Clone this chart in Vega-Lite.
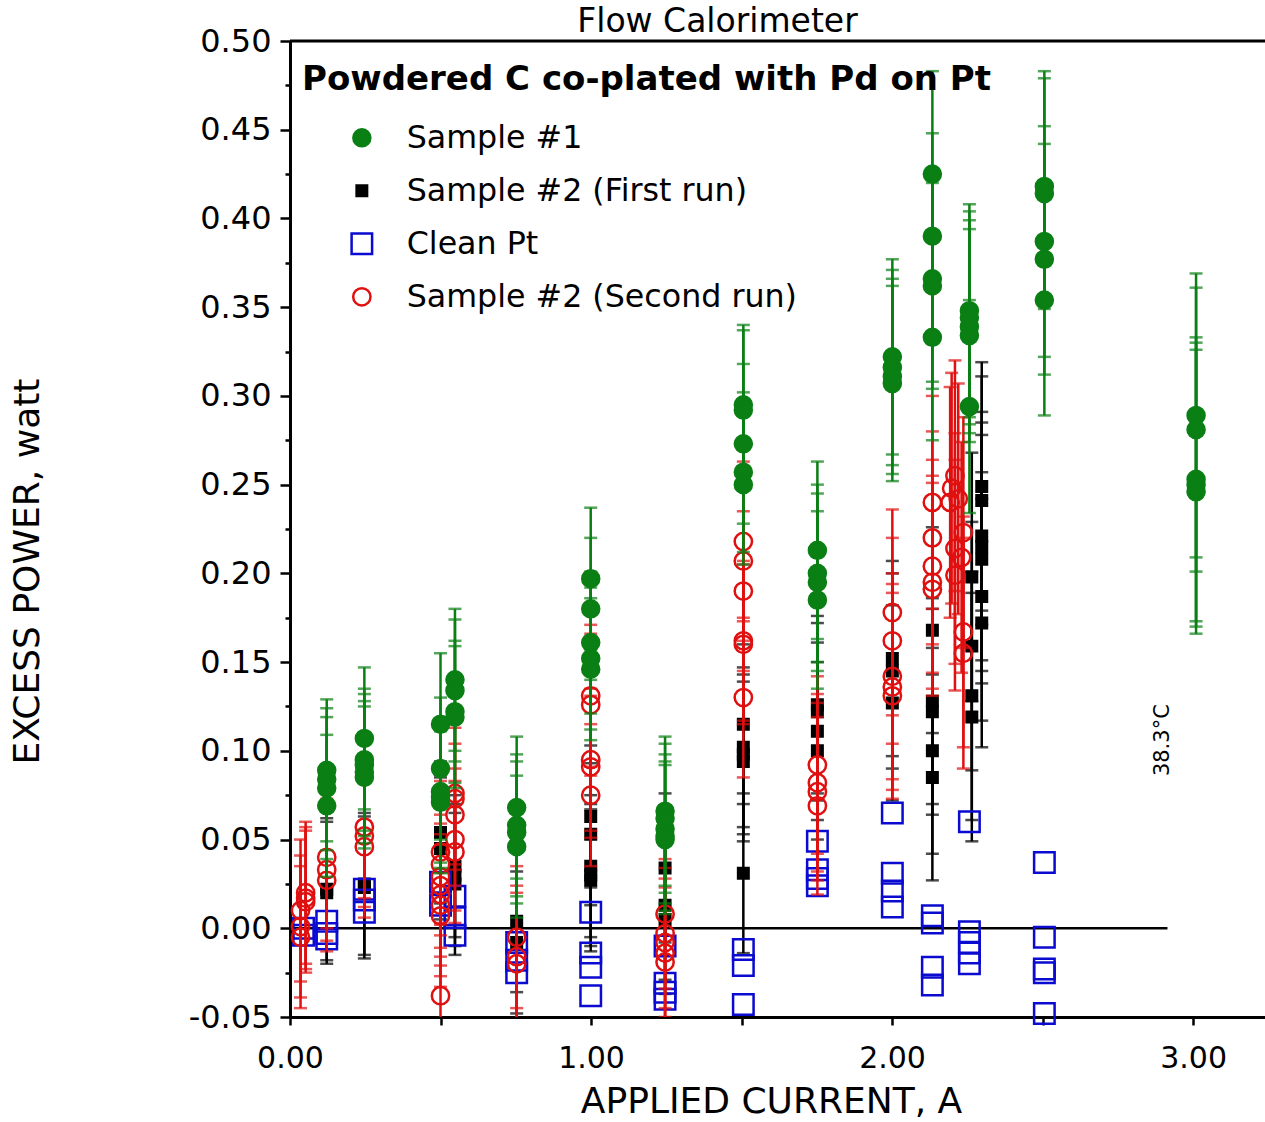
{
  "$schema": "https://vega.github.io/schema/vega-lite/v6.json",
  "width": 975,
  "height": 976,
  "autosize": {"type": "none"},
  "padding": {"left": 290, "top": 41, "right": 0, "bottom": 105},
  "background": "white",
  "title": {"text": "Flow Calorimeter", "fontSize": 33, "font": "DejaVu Sans", "fontWeight": "normal", "color": "black", "anchor": "middle", "dx": -60, "offset": -14},
  "data": {"values": [
    {"series": "Sample #2 (First run)", "current": 0.122, "power": 0.022, "err": 0.04},
    {"series": "Sample #2 (First run)", "current": 0.122, "power": 0.020, "err": 0.04},
    {"series": "Sample #2 (First run)", "current": 0.247, "power": 0.025, "err": 0.04},
    {"series": "Sample #2 (First run)", "current": 0.247, "power": 0.023, "err": 0.04},
    {"series": "Sample #2 (First run)", "current": 0.50, "power": 0.054, "err": 0.04},
    {"series": "Sample #2 (First run)", "current": 0.50, "power": 0.045, "err": 0.04},
    {"series": "Sample #2 (First run)", "current": 0.548, "power": 0.035, "err": 0.04},
    {"series": "Sample #2 (First run)", "current": 0.548, "power": 0.030, "err": 0.04},
    {"series": "Sample #2 (First run)", "current": 0.548, "power": 0.025, "err": 0.04},
    {"series": "Sample #2 (First run)", "current": 0.753, "power": 0.004, "err": 0.04},
    {"series": "Sample #2 (First run)", "current": 0.753, "power": -0.008, "err": 0.04},
    {"series": "Sample #2 (First run)", "current": 0.999, "power": 0.063, "err": 0.04},
    {"series": "Sample #2 (First run)", "current": 0.999, "power": 0.053, "err": 0.04},
    {"series": "Sample #2 (First run)", "current": 0.999, "power": 0.035, "err": 0.04},
    {"series": "Sample #2 (First run)", "current": 0.999, "power": 0.030, "err": 0.04},
    {"series": "Sample #2 (First run)", "current": 0.999, "power": 0.027, "err": 0.04},
    {"series": "Sample #2 (First run)", "current": 1.246, "power": 0.034, "err": 0.042},
    {"series": "Sample #2 (First run)", "current": 1.246, "power": 0.013, "err": 0.042},
    {"series": "Sample #2 (First run)", "current": 1.246, "power": 0.005, "err": 0.042},
    {"series": "Sample #2 (First run)", "current": 1.506, "power": 0.115, "err": 0.045},
    {"series": "Sample #2 (First run)", "current": 1.506, "power": 0.102, "err": 0.045},
    {"series": "Sample #2 (First run)", "current": 1.506, "power": 0.098, "err": 0.045},
    {"series": "Sample #2 (First run)", "current": 1.506, "power": 0.094, "err": 0.045},
    {"series": "Sample #2 (First run)", "current": 1.506, "power": 0.031, "err": 0.045},
    {"series": "Sample #2 (First run)", "current": 1.752, "power": 0.126, "err": 0.05},
    {"series": "Sample #2 (First run)", "current": 1.752, "power": 0.122, "err": 0.05},
    {"series": "Sample #2 (First run)", "current": 1.752, "power": 0.111, "err": 0.05},
    {"series": "Sample #2 (First run)", "current": 1.752, "power": 0.100, "err": 0.05},
    {"series": "Sample #2 (First run)", "current": 2.001, "power": 0.152, "err": 0.055},
    {"series": "Sample #2 (First run)", "current": 2.001, "power": 0.145, "err": 0.055},
    {"series": "Sample #2 (First run)", "current": 2.001, "power": 0.127, "err": 0.055},
    {"series": "Sample #2 (First run)", "current": 2.134, "power": 0.168, "err": 0.058},
    {"series": "Sample #2 (First run)", "current": 2.134, "power": 0.128, "err": 0.058},
    {"series": "Sample #2 (First run)", "current": 2.134, "power": 0.122, "err": 0.058},
    {"series": "Sample #2 (First run)", "current": 2.134, "power": 0.100, "err": 0.058},
    {"series": "Sample #2 (First run)", "current": 2.134, "power": 0.085, "err": 0.058},
    {"series": "Sample #2 (First run)", "current": 2.265, "power": 0.198, "err": 0.07},
    {"series": "Sample #2 (First run)", "current": 2.265, "power": 0.159, "err": 0.07},
    {"series": "Sample #2 (First run)", "current": 2.265, "power": 0.131, "err": 0.07},
    {"series": "Sample #2 (First run)", "current": 2.265, "power": 0.119, "err": 0.07},
    {"series": "Sample #2 (First run)", "current": 2.298, "power": 0.249, "err": 0.07},
    {"series": "Sample #2 (First run)", "current": 2.298, "power": 0.241, "err": 0.07},
    {"series": "Sample #2 (First run)", "current": 2.298, "power": 0.221, "err": 0.07},
    {"series": "Sample #2 (First run)", "current": 2.298, "power": 0.215, "err": 0.07},
    {"series": "Sample #2 (First run)", "current": 2.298, "power": 0.208, "err": 0.07},
    {"series": "Sample #2 (First run)", "current": 2.298, "power": 0.187, "err": 0.07},
    {"series": "Sample #2 (First run)", "current": 2.298, "power": 0.172, "err": 0.07},

    {"series": "Clean Pt", "current": 0.045, "power": 0.000},
    {"series": "Clean Pt", "current": 0.045, "power": -0.004},
    {"series": "Clean Pt", "current": 0.122, "power": 0.004},
    {"series": "Clean Pt", "current": 0.122, "power": -0.003},
    {"series": "Clean Pt", "current": 0.122, "power": -0.006},
    {"series": "Clean Pt", "current": 0.247, "power": 0.022},
    {"series": "Clean Pt", "current": 0.247, "power": 0.016},
    {"series": "Clean Pt", "current": 0.247, "power": 0.009},
    {"series": "Clean Pt", "current": 0.50, "power": 0.026},
    {"series": "Clean Pt", "current": 0.50, "power": 0.013},
    {"series": "Clean Pt", "current": 0.548, "power": 0.018},
    {"series": "Clean Pt", "current": 0.548, "power": 0.006},
    {"series": "Clean Pt", "current": 0.548, "power": -0.004},
    {"series": "Clean Pt", "current": 0.753, "power": -0.008},
    {"series": "Clean Pt", "current": 0.753, "power": -0.018},
    {"series": "Clean Pt", "current": 0.753, "power": -0.025},
    {"series": "Clean Pt", "current": 0.999, "power": 0.009},
    {"series": "Clean Pt", "current": 0.999, "power": -0.014},
    {"series": "Clean Pt", "current": 0.999, "power": -0.022},
    {"series": "Clean Pt", "current": 0.999, "power": -0.038},
    {"series": "Clean Pt", "current": 1.246, "power": -0.010},
    {"series": "Clean Pt", "current": 1.246, "power": -0.031},
    {"series": "Clean Pt", "current": 1.246, "power": -0.036},
    {"series": "Clean Pt", "current": 1.246, "power": -0.040},
    {"series": "Clean Pt", "current": 1.506, "power": -0.012},
    {"series": "Clean Pt", "current": 1.506, "power": -0.021},
    {"series": "Clean Pt", "current": 1.506, "power": -0.043},
    {"series": "Clean Pt", "current": 1.752, "power": 0.049},
    {"series": "Clean Pt", "current": 1.752, "power": 0.033},
    {"series": "Clean Pt", "current": 1.752, "power": 0.028},
    {"series": "Clean Pt", "current": 1.752, "power": 0.024},
    {"series": "Clean Pt", "current": 2.001, "power": 0.065},
    {"series": "Clean Pt", "current": 2.001, "power": 0.031},
    {"series": "Clean Pt", "current": 2.001, "power": 0.021},
    {"series": "Clean Pt", "current": 2.001, "power": 0.012},
    {"series": "Clean Pt", "current": 2.134, "power": 0.007},
    {"series": "Clean Pt", "current": 2.134, "power": 0.003},
    {"series": "Clean Pt", "current": 2.134, "power": -0.022},
    {"series": "Clean Pt", "current": 2.134, "power": -0.032},
    {"series": "Clean Pt", "current": 2.257, "power": 0.060},
    {"series": "Clean Pt", "current": 2.257, "power": -0.002},
    {"series": "Clean Pt", "current": 2.257, "power": -0.008},
    {"series": "Clean Pt", "current": 2.257, "power": -0.014},
    {"series": "Clean Pt", "current": 2.257, "power": -0.020},
    {"series": "Clean Pt", "current": 2.506, "power": 0.037},
    {"series": "Clean Pt", "current": 2.506, "power": -0.005},
    {"series": "Clean Pt", "current": 2.506, "power": -0.023},
    {"series": "Clean Pt", "current": 2.506, "power": -0.025},
    {"series": "Clean Pt", "current": 2.506, "power": -0.048},

    {"series": "Sample #2 (Second run)", "current": 0.035, "power": 0.010, "err": 0.04},
    {"series": "Sample #2 (Second run)", "current": 0.035, "power": 0.001, "err": 0.04},
    {"series": "Sample #2 (Second run)", "current": 0.035, "power": -0.005, "err": 0.04},
    {"series": "Sample #2 (Second run)", "current": 0.052, "power": 0.020, "err": 0.04},
    {"series": "Sample #2 (Second run)", "current": 0.052, "power": 0.017, "err": 0.04},
    {"series": "Sample #2 (Second run)", "current": 0.052, "power": 0.015, "err": 0.04},
    {"series": "Sample #2 (Second run)", "current": 0.122, "power": 0.040, "err": 0.04},
    {"series": "Sample #2 (Second run)", "current": 0.122, "power": 0.033, "err": 0.04},
    {"series": "Sample #2 (Second run)", "current": 0.122, "power": 0.027, "err": 0.04},
    {"series": "Sample #2 (Second run)", "current": 0.247, "power": 0.057, "err": 0.04},
    {"series": "Sample #2 (Second run)", "current": 0.247, "power": 0.052, "err": 0.04},
    {"series": "Sample #2 (Second run)", "current": 0.247, "power": 0.046, "err": 0.04},
    {"series": "Sample #2 (Second run)", "current": 0.50, "power": 0.043, "err": 0.04},
    {"series": "Sample #2 (Second run)", "current": 0.50, "power": 0.036, "err": 0.04},
    {"series": "Sample #2 (Second run)", "current": 0.50, "power": 0.029, "err": 0.04},
    {"series": "Sample #2 (Second run)", "current": 0.50, "power": 0.024, "err": 0.04},
    {"series": "Sample #2 (Second run)", "current": 0.50, "power": 0.019, "err": 0.04},
    {"series": "Sample #2 (Second run)", "current": 0.50, "power": 0.013, "err": 0.04},
    {"series": "Sample #2 (Second run)", "current": 0.50, "power": 0.007, "err": 0.04},
    {"series": "Sample #2 (Second run)", "current": 0.50, "power": -0.038, "err": 0.04},
    {"series": "Sample #2 (Second run)", "current": 0.548, "power": 0.076, "err": 0.04},
    {"series": "Sample #2 (Second run)", "current": 0.548, "power": 0.073, "err": 0.04},
    {"series": "Sample #2 (Second run)", "current": 0.548, "power": 0.064, "err": 0.04},
    {"series": "Sample #2 (Second run)", "current": 0.548, "power": 0.050, "err": 0.04},
    {"series": "Sample #2 (Second run)", "current": 0.548, "power": 0.043, "err": 0.04},
    {"series": "Sample #2 (Second run)", "current": 0.753, "power": -0.005, "err": 0.04},
    {"series": "Sample #2 (Second run)", "current": 0.753, "power": -0.016, "err": 0.04},
    {"series": "Sample #2 (Second run)", "current": 0.753, "power": -0.020, "err": 0.04},
    {"series": "Sample #2 (Second run)", "current": 0.999, "power": 0.131, "err": 0.04},
    {"series": "Sample #2 (Second run)", "current": 0.999, "power": 0.126, "err": 0.04},
    {"series": "Sample #2 (Second run)", "current": 0.999, "power": 0.095, "err": 0.04},
    {"series": "Sample #2 (Second run)", "current": 0.999, "power": 0.091, "err": 0.04},
    {"series": "Sample #2 (Second run)", "current": 0.999, "power": 0.075, "err": 0.04},
    {"series": "Sample #2 (Second run)", "current": 1.246, "power": 0.008, "err": 0.042},
    {"series": "Sample #2 (Second run)", "current": 1.246, "power": -0.003, "err": 0.042},
    {"series": "Sample #2 (Second run)", "current": 1.246, "power": -0.008, "err": 0.042},
    {"series": "Sample #2 (Second run)", "current": 1.246, "power": -0.014, "err": 0.042},
    {"series": "Sample #2 (Second run)", "current": 1.246, "power": -0.019, "err": 0.042},
    {"series": "Sample #2 (Second run)", "current": 1.506, "power": 0.218, "err": 0.045},
    {"series": "Sample #2 (Second run)", "current": 1.506, "power": 0.207, "err": 0.045},
    {"series": "Sample #2 (Second run)", "current": 1.506, "power": 0.190, "err": 0.045},
    {"series": "Sample #2 (Second run)", "current": 1.506, "power": 0.162, "err": 0.045},
    {"series": "Sample #2 (Second run)", "current": 1.506, "power": 0.160, "err": 0.045},
    {"series": "Sample #2 (Second run)", "current": 1.506, "power": 0.130, "err": 0.045},
    {"series": "Sample #2 (Second run)", "current": 1.752, "power": 0.092, "err": 0.05},
    {"series": "Sample #2 (Second run)", "current": 1.752, "power": 0.082, "err": 0.05},
    {"series": "Sample #2 (Second run)", "current": 1.752, "power": 0.077, "err": 0.05},
    {"series": "Sample #2 (Second run)", "current": 1.752, "power": 0.069, "err": 0.05},
    {"series": "Sample #2 (Second run)", "current": 2.001, "power": 0.178, "err": 0.058},
    {"series": "Sample #2 (Second run)", "current": 2.001, "power": 0.162, "err": 0.058},
    {"series": "Sample #2 (Second run)", "current": 2.001, "power": 0.142, "err": 0.058},
    {"series": "Sample #2 (Second run)", "current": 2.001, "power": 0.136, "err": 0.058},
    {"series": "Sample #2 (Second run)", "current": 2.001, "power": 0.131, "err": 0.058},
    {"series": "Sample #2 (Second run)", "current": 2.134, "power": 0.240, "err": 0.06},
    {"series": "Sample #2 (Second run)", "current": 2.134, "power": 0.220, "err": 0.06},
    {"series": "Sample #2 (Second run)", "current": 2.134, "power": 0.204, "err": 0.06},
    {"series": "Sample #2 (Second run)", "current": 2.134, "power": 0.195, "err": 0.06},
    {"series": "Sample #2 (Second run)", "current": 2.134, "power": 0.191, "err": 0.06},
    {"series": "Sample #2 (Second run)", "current": 2.198, "power": 0.248, "err": 0.065},
    {"series": "Sample #2 (Second run)", "current": 2.193, "power": 0.240, "err": 0.065},
    {"series": "Sample #2 (Second run)", "current": 2.209, "power": 0.255, "err": 0.065},
    {"series": "Sample #2 (Second run)", "current": 2.209, "power": 0.214, "err": 0.065},
    {"series": "Sample #2 (Second run)", "current": 2.209, "power": 0.199, "err": 0.065},
    {"series": "Sample #2 (Second run)", "current": 2.220, "power": 0.242, "err": 0.065},
    {"series": "Sample #2 (Second run)", "current": 2.231, "power": 0.209, "err": 0.065},
    {"series": "Sample #2 (Second run)", "current": 2.237, "power": 0.223, "err": 0.065},
    {"series": "Sample #2 (Second run)", "current": 2.237, "power": 0.167, "err": 0.065},
    {"series": "Sample #2 (Second run)", "current": 2.237, "power": 0.155, "err": 0.065},

    {"series": "Sample #1", "current": 0.122, "power": 0.089, "err": 0.04},
    {"series": "Sample #1", "current": 0.122, "power": 0.084, "err": 0.04},
    {"series": "Sample #1", "current": 0.122, "power": 0.079, "err": 0.04},
    {"series": "Sample #1", "current": 0.122, "power": 0.069, "err": 0.04},
    {"series": "Sample #1", "current": 0.247, "power": 0.107, "err": 0.04},
    {"series": "Sample #1", "current": 0.247, "power": 0.095, "err": 0.04},
    {"series": "Sample #1", "current": 0.247, "power": 0.092, "err": 0.04},
    {"series": "Sample #1", "current": 0.247, "power": 0.088, "err": 0.04},
    {"series": "Sample #1", "current": 0.247, "power": 0.085, "err": 0.04},
    {"series": "Sample #1", "current": 0.50, "power": 0.115, "err": 0.04},
    {"series": "Sample #1", "current": 0.50, "power": 0.090, "err": 0.04},
    {"series": "Sample #1", "current": 0.50, "power": 0.077, "err": 0.04},
    {"series": "Sample #1", "current": 0.50, "power": 0.074, "err": 0.04},
    {"series": "Sample #1", "current": 0.50, "power": 0.071, "err": 0.04},
    {"series": "Sample #1", "current": 0.548, "power": 0.140, "err": 0.04},
    {"series": "Sample #1", "current": 0.548, "power": 0.134, "err": 0.04},
    {"series": "Sample #1", "current": 0.548, "power": 0.122, "err": 0.04},
    {"series": "Sample #1", "current": 0.548, "power": 0.119, "err": 0.04},
    {"series": "Sample #1", "current": 0.753, "power": 0.068, "err": 0.04},
    {"series": "Sample #1", "current": 0.753, "power": 0.058, "err": 0.04},
    {"series": "Sample #1", "current": 0.753, "power": 0.054, "err": 0.04},
    {"series": "Sample #1", "current": 0.753, "power": 0.046, "err": 0.04},
    {"series": "Sample #1", "current": 0.999, "power": 0.197, "err": 0.04},
    {"series": "Sample #1", "current": 0.999, "power": 0.180, "err": 0.04},
    {"series": "Sample #1", "current": 0.999, "power": 0.161, "err": 0.04},
    {"series": "Sample #1", "current": 0.999, "power": 0.152, "err": 0.04},
    {"series": "Sample #1", "current": 0.999, "power": 0.146, "err": 0.04},
    {"series": "Sample #1", "current": 1.246, "power": 0.066, "err": 0.042},
    {"series": "Sample #1", "current": 1.246, "power": 0.062, "err": 0.042},
    {"series": "Sample #1", "current": 1.246, "power": 0.056, "err": 0.042},
    {"series": "Sample #1", "current": 1.246, "power": 0.052, "err": 0.042},
    {"series": "Sample #1", "current": 1.246, "power": 0.050, "err": 0.042},
    {"series": "Sample #1", "current": 1.506, "power": 0.295, "err": 0.045},
    {"series": "Sample #1", "current": 1.506, "power": 0.292, "err": 0.045},
    {"series": "Sample #1", "current": 1.506, "power": 0.273, "err": 0.045},
    {"series": "Sample #1", "current": 1.506, "power": 0.257, "err": 0.045},
    {"series": "Sample #1", "current": 1.506, "power": 0.250, "err": 0.045},
    {"series": "Sample #1", "current": 1.752, "power": 0.213, "err": 0.05},
    {"series": "Sample #1", "current": 1.752, "power": 0.200, "err": 0.05},
    {"series": "Sample #1", "current": 1.752, "power": 0.195, "err": 0.05},
    {"series": "Sample #1", "current": 1.752, "power": 0.185, "err": 0.05},
    {"series": "Sample #1", "current": 2.001, "power": 0.322, "err": 0.055},
    {"series": "Sample #1", "current": 2.001, "power": 0.316, "err": 0.055},
    {"series": "Sample #1", "current": 2.001, "power": 0.311, "err": 0.055},
    {"series": "Sample #1", "current": 2.001, "power": 0.307, "err": 0.055},
    {"series": "Sample #1", "current": 2.134, "power": 0.425, "err": 0.058},
    {"series": "Sample #1", "current": 2.134, "power": 0.390, "err": 0.058},
    {"series": "Sample #1", "current": 2.134, "power": 0.366, "err": 0.058},
    {"series": "Sample #1", "current": 2.134, "power": 0.362, "err": 0.058},
    {"series": "Sample #1", "current": 2.134, "power": 0.333, "err": 0.058},
    {"series": "Sample #1", "current": 2.257, "power": 0.348, "err": 0.06},
    {"series": "Sample #1", "current": 2.257, "power": 0.344, "err": 0.06},
    {"series": "Sample #1", "current": 2.257, "power": 0.339, "err": 0.06},
    {"series": "Sample #1", "current": 2.257, "power": 0.334, "err": 0.06},
    {"series": "Sample #1", "current": 2.257, "power": 0.294, "err": 0.06},
    {"series": "Sample #1", "current": 2.506, "power": 0.418, "err": 0.065},
    {"series": "Sample #1", "current": 2.506, "power": 0.414, "err": 0.065},
    {"series": "Sample #1", "current": 2.506, "power": 0.387, "err": 0.065},
    {"series": "Sample #1", "current": 2.506, "power": 0.377, "err": 0.065},
    {"series": "Sample #1", "current": 2.506, "power": 0.354, "err": 0.065},
    {"series": "Sample #1", "current": 3.01, "power": 0.289, "err": 0.08},
    {"series": "Sample #1", "current": 3.01, "power": 0.281, "err": 0.08},
    {"series": "Sample #1", "current": 3.01, "power": 0.253, "err": 0.08},
    {"series": "Sample #1", "current": 3.01, "power": 0.250, "err": 0.08},
    {"series": "Sample #1", "current": 3.01, "power": 0.246, "err": 0.08}
  ]},
  "layer": [
    {
      "data": {"values": [{"power": 0.5}]},
      "mark": {"type": "rule", "strokeWidth": 3, "color": "black"},
      "encoding": {"y": {"field": "power", "type": "quantitative", "title": "EXCESS POWER, watt", "scale": {"domain": [-0.05, 0.5], "nice": false, "zero": false}}}
    },
    {
      "data": {"values": [{"current": 0, "current2": 2.915, "power": 0}]},
      "mark": {"type": "rule", "strokeWidth": 2.5, "color": "black"},
      "encoding": {
        "x": {"field": "current", "type": "quantitative", "title": "APPLIED CURRENT, A", "scale": {"domain": [0, 3.239], "nice": false, "zero": false}},
        "x2": {"field": "current2"},
        "y": {"field": "power", "type": "quantitative", "title": "EXCESS POWER, watt", "scale": {"domain": [-0.05, 0.5], "nice": false, "zero": false}}
      }
    },
    {
      "transform": [{"filter": "datum.series == 'Sample #2 (First run)'"}],
      "mark": {"type": "errorbar", "ticks": true, "thickness": 2.5, "size": 13, "clip": true, "color": "#000000"},
      "encoding": {
        "x": {"field": "current", "type": "quantitative", "title": "APPLIED CURRENT, A", "scale": {"domain": [0, 3.239], "nice": false, "zero": false}},
        "y": {"field": "power", "type": "quantitative", "title": "EXCESS POWER, watt", "scale": {"domain": [-0.05, 0.5], "nice": false, "zero": false}},
        "yError": {"field": "err"}
      }
    },
    {
      "transform": [{"filter": "datum.series == 'Sample #2 (First run)'"}],
      "mark": {"type": "point", "filled": true, "strokeWidth": 2.5, "opacity": 1},
      "encoding": {
        "x": {"field": "current", "type": "quantitative", "title": "APPLIED CURRENT, A", "scale": {"domain": [0, 3.239], "nice": false, "zero": false},
          "axis": {"values": [0, 0.5, 1, 1.5, 2, 2.5, 3], "labelExpr": "datum.value % 1 == 0 ? format(datum.value, '.2f') : ''", "tickSize": 8, "labelPadding": 18, "title": "APPLIED CURRENT, A", "titleX": 481, "titleY": 95, "titleFontSize": 36, "titleBaseline": "alphabetic", "labelFlush": false, "labelOverlap": false}},
        "y": {"field": "power", "type": "quantitative", "title": "EXCESS POWER, watt", "scale": {"domain": [-0.05, 0.5], "nice": false, "zero": false},
          "axis": {"values": [-0.05, -0.025, 0, 0.025, 0.05, 0.075, 0.1, 0.125, 0.15, 0.175, 0.2, 0.225, 0.25, 0.275, 0.3, 0.325, 0.35, 0.375, 0.4, 0.425, 0.45, 0.475, 0.5],
            "labelExpr": "abs(datum.value*20 - round(datum.value*20)) > 0.01 ? '' : replace(format(datum.value, '.2f'), '\u2212', '-')",
            "tickSize": {"condition": {"test": "abs(datum.value*20 - round(datum.value*20)) > 0.01", "value": 5}, "value": 10},
            "labelPadding": 9, "labelFontSize": 32, "title": "EXCESS POWER, watt", "titleFontSize": 36, "titleX": -252, "titleY": 530, "titleBaseline": "alphabetic", "labelOverlap": false, "labelFlush": false}},
        "fill": {"field": "series", "type": "nominal", "title": "Powdered C co-plated with Pd on Pt", "scale": {"domain": ["Sample #1", "Sample #2 (First run)", "Clean Pt", "Sample #2 (Second run)"], "range": ["#0a7f14", "#000000", "transparent", "transparent"]}},
        "stroke": {"field": "series", "type": "nominal", "title": "Powdered C co-plated with Pd on Pt", "scale": {"domain": ["Sample #1", "Sample #2 (First run)", "Clean Pt", "Sample #2 (Second run)"], "range": ["#0a7f14", "#000000", "#0a0ad0", "#e01010"]}},
        "shape": {"field": "series", "type": "nominal", "title": "Powdered C co-plated with Pd on Pt", "scale": {"domain": ["Sample #1", "Sample #2 (First run)", "Clean Pt", "Sample #2 (Second run)"], "range": ["circle", "square", "square", "circle"]}},
        "size": {"field": "series", "type": "nominal", "title": "Powdered C co-plated with Pd on Pt", "scale": {"type": "ordinal", "domain": ["Sample #1", "Sample #2 (First run)", "Clean Pt", "Sample #2 (Second run)"], "range": [290, 110, 420, 300]}}
      }
    },
    {
      "transform": [{"filter": "datum.series == 'Clean Pt'"}],
      "mark": {"type": "point", "filled": true, "strokeWidth": 2.5, "opacity": 1},
      "encoding": {
        "x": {"field": "current", "type": "quantitative", "title": "APPLIED CURRENT, A", "scale": {"domain": [0, 3.239], "nice": false, "zero": false}},
        "y": {"field": "power", "type": "quantitative", "title": "EXCESS POWER, watt", "scale": {"domain": [-0.05, 0.5], "nice": false, "zero": false}},
        "fill": {"field": "series", "type": "nominal", "title": "Powdered C co-plated with Pd on Pt", "scale": {"domain": ["Sample #1", "Sample #2 (First run)", "Clean Pt", "Sample #2 (Second run)"], "range": ["#0a7f14", "#000000", "transparent", "transparent"]}},
        "stroke": {"field": "series", "type": "nominal", "title": "Powdered C co-plated with Pd on Pt", "scale": {"domain": ["Sample #1", "Sample #2 (First run)", "Clean Pt", "Sample #2 (Second run)"], "range": ["#0a7f14", "#000000", "#0a0ad0", "#e01010"]}},
        "shape": {"field": "series", "type": "nominal", "title": "Powdered C co-plated with Pd on Pt", "scale": {"domain": ["Sample #1", "Sample #2 (First run)", "Clean Pt", "Sample #2 (Second run)"], "range": ["circle", "square", "square", "circle"]}},
        "size": {"field": "series", "type": "nominal", "title": "Powdered C co-plated with Pd on Pt", "scale": {"type": "ordinal", "domain": ["Sample #1", "Sample #2 (First run)", "Clean Pt", "Sample #2 (Second run)"], "range": [290, 110, 420, 300]}}
      }
    },
    {
      "transform": [{"filter": "datum.series == 'Sample #2 (Second run)'"}],
      "mark": {"type": "errorbar", "ticks": true, "thickness": 2.5, "size": 13, "clip": true, "color": "#e01010"},
      "encoding": {
        "x": {"field": "current", "type": "quantitative", "title": "APPLIED CURRENT, A", "scale": {"domain": [0, 3.239], "nice": false, "zero": false}},
        "y": {"field": "power", "type": "quantitative", "title": "EXCESS POWER, watt", "scale": {"domain": [-0.05, 0.5], "nice": false, "zero": false}},
        "yError": {"field": "err"}
      }
    },
    {
      "transform": [{"filter": "datum.series == 'Sample #2 (Second run)'"}],
      "mark": {"type": "point", "filled": true, "strokeWidth": 2.5, "opacity": 1},
      "encoding": {
        "x": {"field": "current", "type": "quantitative", "title": "APPLIED CURRENT, A", "scale": {"domain": [0, 3.239], "nice": false, "zero": false}},
        "y": {"field": "power", "type": "quantitative", "title": "EXCESS POWER, watt", "scale": {"domain": [-0.05, 0.5], "nice": false, "zero": false}},
        "fill": {"field": "series", "type": "nominal", "title": "Powdered C co-plated with Pd on Pt", "scale": {"domain": ["Sample #1", "Sample #2 (First run)", "Clean Pt", "Sample #2 (Second run)"], "range": ["#0a7f14", "#000000", "transparent", "transparent"]}},
        "stroke": {"field": "series", "type": "nominal", "title": "Powdered C co-plated with Pd on Pt", "scale": {"domain": ["Sample #1", "Sample #2 (First run)", "Clean Pt", "Sample #2 (Second run)"], "range": ["#0a7f14", "#000000", "#0a0ad0", "#e01010"]}},
        "shape": {"field": "series", "type": "nominal", "title": "Powdered C co-plated with Pd on Pt", "scale": {"domain": ["Sample #1", "Sample #2 (First run)", "Clean Pt", "Sample #2 (Second run)"], "range": ["circle", "square", "square", "circle"]}},
        "size": {"field": "series", "type": "nominal", "title": "Powdered C co-plated with Pd on Pt", "scale": {"type": "ordinal", "domain": ["Sample #1", "Sample #2 (First run)", "Clean Pt", "Sample #2 (Second run)"], "range": [290, 110, 420, 300]}}
      }
    },
    {
      "transform": [{"filter": "datum.series == 'Sample #1'"}],
      "mark": {"type": "errorbar", "ticks": true, "thickness": 2.5, "size": 13, "clip": true, "color": "#0a7f14"},
      "encoding": {
        "x": {"field": "current", "type": "quantitative", "title": "APPLIED CURRENT, A", "scale": {"domain": [0, 3.239], "nice": false, "zero": false}},
        "y": {"field": "power", "type": "quantitative", "title": "EXCESS POWER, watt", "scale": {"domain": [-0.05, 0.5], "nice": false, "zero": false}},
        "yError": {"field": "err"}
      }
    },
    {
      "transform": [{"filter": "datum.series == 'Sample #1'"}],
      "mark": {"type": "point", "filled": true, "strokeWidth": 2.5, "opacity": 1},
      "encoding": {
        "x": {"field": "current", "type": "quantitative", "title": "APPLIED CURRENT, A", "scale": {"domain": [0, 3.239], "nice": false, "zero": false}},
        "y": {"field": "power", "type": "quantitative", "title": "EXCESS POWER, watt", "scale": {"domain": [-0.05, 0.5], "nice": false, "zero": false}},
        "fill": {"field": "series", "type": "nominal", "title": "Powdered C co-plated with Pd on Pt", "scale": {"domain": ["Sample #1", "Sample #2 (First run)", "Clean Pt", "Sample #2 (Second run)"], "range": ["#0a7f14", "#000000", "transparent", "transparent"]}},
        "stroke": {"field": "series", "type": "nominal", "title": "Powdered C co-plated with Pd on Pt", "scale": {"domain": ["Sample #1", "Sample #2 (First run)", "Clean Pt", "Sample #2 (Second run)"], "range": ["#0a7f14", "#000000", "#0a0ad0", "#e01010"]}},
        "shape": {"field": "series", "type": "nominal", "title": "Powdered C co-plated with Pd on Pt", "scale": {"domain": ["Sample #1", "Sample #2 (First run)", "Clean Pt", "Sample #2 (Second run)"], "range": ["circle", "square", "square", "circle"]}},
        "size": {"field": "series", "type": "nominal", "title": "Powdered C co-plated with Pd on Pt", "scale": {"type": "ordinal", "domain": ["Sample #1", "Sample #2 (First run)", "Clean Pt", "Sample #2 (Second run)"], "range": [290, 110, 420, 300]}}
      }
    },
    {
      "data": {"values": [{"current": 2.9, "power": 0.106, "label": "38.3°C"}]},
      "mark": {"type": "text", "angle": 270, "fontSize": 21, "align": "center", "baseline": "middle", "font": "DejaVu Sans", "color": "black"},
      "encoding": {
        "x": {"field": "current", "type": "quantitative", "title": "APPLIED CURRENT, A", "scale": {"domain": [0, 3.239], "nice": false, "zero": false}},
        "y": {"field": "power", "type": "quantitative", "title": "EXCESS POWER, watt", "scale": {"domain": [-0.05, 0.5], "nice": false, "zero": false}},
        "text": {"field": "label"}
      }
    }
  ],
  "config": {
    "font": "DejaVu Sans",
    "view": {"stroke": null},
    "axis": {"grid": false, "domainColor": "black", "domainWidth": 3, "tickColor": "black", "tickWidth": 2.5, "labelColor": "black", "titleColor": "black", "labelFont": "DejaVu Sans", "titleFont": "DejaVu Sans", "labelFontSize": 30, "titleFontSize": 34, "titleFontWeight": "normal"},
    "legend": {"orient": "none", "legendX": 12, "legendY": 22, "padding": 0, "titleFont": "DejaVu Sans", "titleFontSize": 34, "titleFontWeight": "bold", "titleColor": "black", "titleLimit": 0, "titlePadding": 25, "labelFont": "DejaVu Sans", "labelFontSize": 31.7, "labelColor": "black", "labelLimit": 0, "rowPadding": 20, "symbolOffset": 44, "labelOffset": 29, "symbolStrokeWidth": 2.5}
  }
}
